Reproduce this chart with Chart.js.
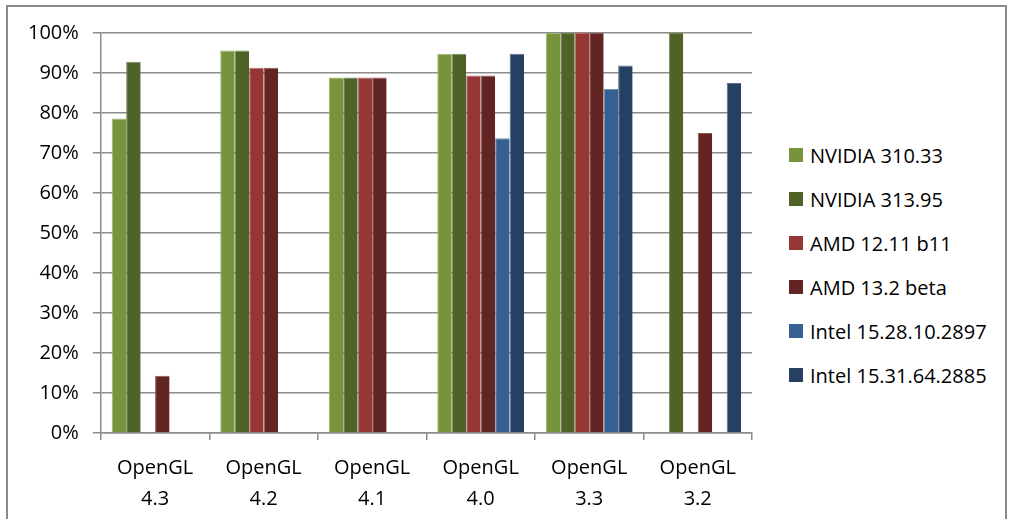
<!DOCTYPE html>
<html lang="en">
<head>
    <meta charset="UTF-8">
    <title>OpenGL conformance by driver</title>
    <script src="https://cdn.jsdelivr.net/npm/chart.js"></script>
    <style>
        body { margin: 0; background: #fff; font-family: "Open Sans", "Liberation Sans", sans-serif; }
        #frame {
            position: absolute; left: 6px; top: 5px;
            width: 997px; height: 512px;
            border: 2px solid #8a8a8a;
            border-bottom: none;
        }
        #wrap { position: absolute; left: 0; top: 0; width: 752px; height: 521px; }
        #legend { position: absolute; left: 781px; top: 126px; margin: 0; padding: 0; list-style: none; }
        #legend li { height: 44px; display: flex; align-items: center; font-size: 20px; color: #000; white-space: nowrap; }
        #legend span { display: inline-block; width: 14px; height: 14px; margin-right: 7px; }
    </style>
</head>
<body>
    <div id="frame">
        <div id="wrap"><canvas id="glChart"></canvas></div>
        <ul id="legend"></ul>
    </div>

    <script>
        const categories = [['OpenGL', '4.3'], ['OpenGL', '4.2'], ['OpenGL', '4.1'], ['OpenGL', '4.0'], ['OpenGL', '3.3'], ['OpenGL', '3.2']];
        const seriesNames = ['NVIDIA 310.33', 'NVIDIA 313.95', 'AMD 12.11 b11', 'AMD 13.2 beta', 'Intel 15.28.10.2897', 'Intel 15.31.64.2885'];
        const nvidia31033 = [78.6, 95.6, 88.9, 94.8, 100, 0];
        const nvidia31395 = [92.8, 95.6, 88.9, 94.8, 100, 100];
        const amd1211 = [0, 91.3, 88.9, 89.4, 100, 0];
        const amd132 = [14.3, 91.3, 88.9, 89.4, 100, 75];
        const intel2897 = [0, 0, 0, 73.7, 86, 0];
        const intel2885 = [0, 0, 0, 94.8, 91.9, 87.5];
        const yTicks = [0, 10, 20, 30, 40, 50, 60, 70, 80, 90, 100];

        const colors = ['#77933c', '#4f6228', '#953735', '#632523', '#376092', '#254061'];
        const edges = ['#9cb86a', '#738a52', '#b86a68', '#8a5452', '#6c8fbd', '#5a7190'];
        const allValues = [nvidia31033, nvidia31395, amd1211, amd132, intel2897, intel2885];

        const datasets = allValues.map((vals, i) => ({
            label: seriesNames[i],
            data: vals,
            backgroundColor: colors[i],
            borderColor: edges[i],
            borderWidth: { top: 1, left: 1, right: 0, bottom: 0 },
            borderSkipped: false,
            barPercentage: 1.0,
            categoryPercentage: 0.8
        }));

        // legend drawn as html so it can sit where the original has it
        const legendEl = document.getElementById('legend');
        seriesNames.forEach((name, i) => {
            const li = document.createElement('li');
            const sw = document.createElement('span');
            sw.style.background = colors[i];
            li.appendChild(sw);
            li.appendChild(document.createTextNode(name));
            legendEl.appendChild(li);
        });

        const fontFam = '"Open Sans", "Liberation Sans", sans-serif';

        new Chart(document.getElementById('glChart').getContext('2d'), {
            type: 'bar',
            data: { labels: categories, datasets: datasets },
            options: {
                responsive: true,
                maintainAspectRatio: false,
                animation: false,
                layout: { padding: { left: 6, right: 8, top: 21, bottom: 0 } },
                scales: {
                    y: {
                        min: 0, max: 100,
                        afterBuildTicks: axis => { axis.ticks = yTicks.map(v => ({ value: v })); },
                        ticks: {
                            callback: v => v + '%',
                            color: '#000',
                            font: { family: fontFam, size: 20 },
                            padding: 14
                        },
                        grid: { color: '#8c8c8c', lineWidth: 1.5, tickLength: 8 },
                        border: { color: '#8c8c8c', width: 1.5 }
                    },
                    x: {
                        ticks: {
                            color: '#000',
                            font: { family: fontFam, size: 20, lineHeight: 1.55 },
                            padding: 13,
                            maxRotation: 0
                        },
                        grid: { drawOnChartArea: false, color: '#8c8c8c', lineWidth: 1.5, tickLength: 7, offset: true },
                        border: { color: '#8c8c8c', width: 1.5 }
                    }
                },
                plugins: {
                    legend: { display: false },
                    tooltip: { enabled: false }
                }
            }
        });
    </script>
</body>
</html>
